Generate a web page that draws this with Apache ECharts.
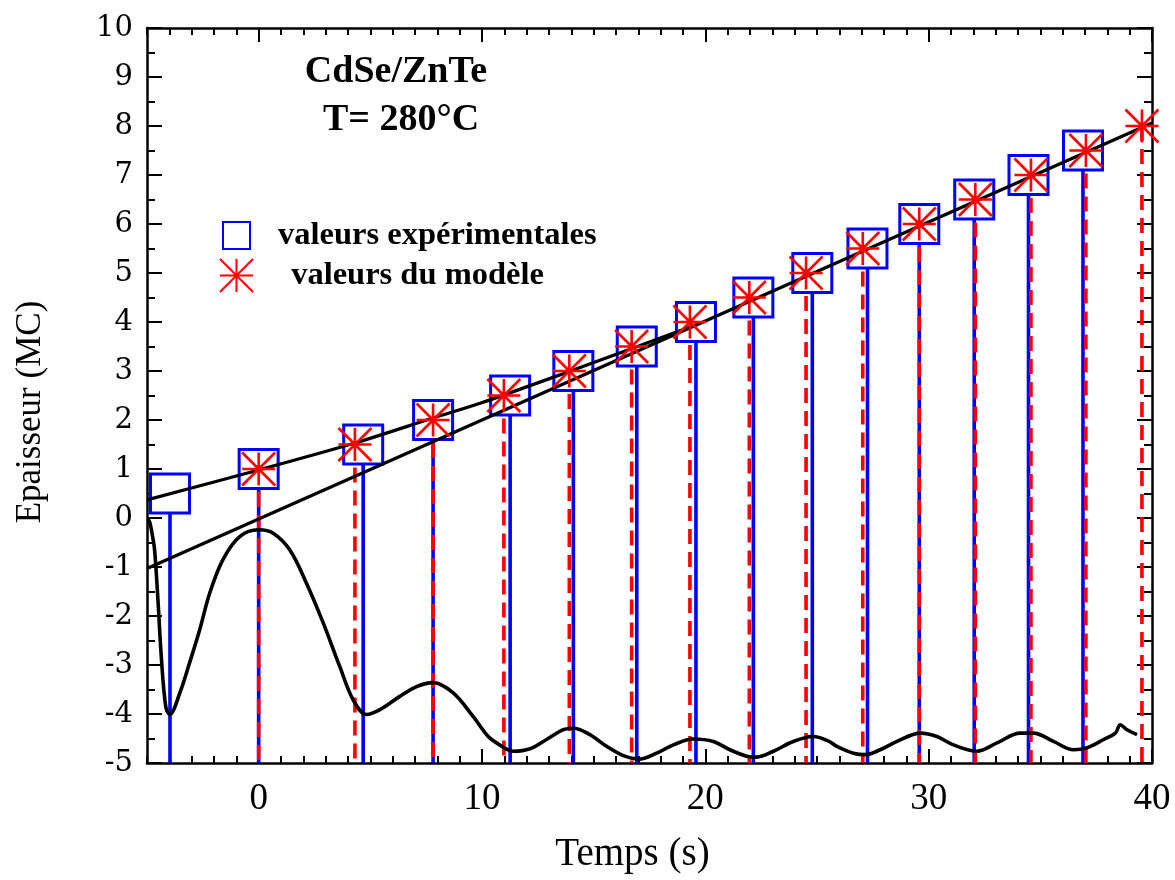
<!DOCTYPE html>
<html><head><meta charset="utf-8">
<script src="https://cdn.jsdelivr.net/npm/echarts@6/dist/echarts.min.js"></script>
<style>html,body{margin:0;padding:0;background:#fff}#c{width:1175px;height:880px}</style>
</head><body><div id="c"></div>
<script>
// ---- data ----
const xMajorTicks = [0, 10, 20, 30, 40];
const expX = [-3.97, 0, 4.68, 7.81, 11.26, 14.09, 16.93, 19.58, 22.15, 24.79, 27.26, 29.58, 32.04, 34.47, 36.91];
const expY = [0.5, 1, 1.5, 2, 2.5, 3, 3.5, 4, 4.5, 5, 5.5, 6, 6.5, 7, 7.5];
const modX = [0, 4.31, 7.81, 10.98, 13.91, 16.70, 19.31, 21.97, 24.51, 27.05, 29.58, 32.09, 34.58, 37.04, 39.55];
const modY = [1, 1.5, 2, 2.5, 3, 3.5, 4, 4.5, 5, 5.5, 6, 6.5, 7, 7.5, 8];
const curveX = [-4.97, -4.88, -4.78, -4.66, -4.51, -4.36, -4.16, -3.98, -3.53, -3.09, -2.64, -2.19, -1.6, -0.85, 0, 0.65, 1.39, 2.14, 2.89, 3.63, 4.23, 4.83, 5.43, 6.32, 7.07, 7.81, 8.71, 9.6, 10.28, 10.65, 11.4, 12.15, 12.89, 13.64, 14.09, 14.83, 15.58, 16.33, 17.07, 17.82, 18.57, 19.46, 20.36, 21.1, 21.85, 22.3, 23.05, 23.94, 24.84, 25.5, 25.89, 26.63, 27.16, 27.83, 28.58, 29.63, 30.37, 31.11, 32.16, 33.06, 34.1, 34.69, 35.59, 36.49, 37.09, 37.84, 38.36, 38.58, 38.88, 39.33];
const curveY = [-0.02, -0.08, -0.3, -0.65, -1.67, -2.83, -3.85, -4.01, -3.57, -2.95, -2.28, -1.53, -0.85, -0.38, -0.24, -0.31, -0.65, -1.33, -2.14, -3.03, -3.71, -4.01, -3.91, -3.64, -3.44, -3.36, -3.57, -4.05, -4.46, -4.59, -4.76, -4.71, -4.52, -4.32, -4.29, -4.42, -4.66, -4.85, -4.92, -4.8, -4.63, -4.51, -4.56, -4.73, -4.86, -4.88, -4.76, -4.56, -4.46, -4.55, -4.66, -4.8, -4.83, -4.73, -4.56, -4.39, -4.46, -4.63, -4.76, -4.59, -4.39, -4.39, -4.56, -4.73, -4.69, -4.52, -4.39, -4.22, -4.32, -4.42];
const fit1X = [-5, 0, 4.31, 7.81, 9.91, 14.09, 17.02, 19.8];
const fit1Y = [0.37, 0.98, 1.53, 2.04, 2.34, 3.02, 3.51, 3.98];
const fit2X = [-5, 40];
const fit2Y = [-1.03, 8.06];
const legendNames = ['valeurs expérimentales', ' valeurs du modèle'];
const titleLines = ['CdSe/ZnTe', 'T= 280°C'];
const xName = 'Temps (s)';
const yName = 'Epaisseur (MC)';

const zip = (a, b) => a.map((v, i) => [v, b[i]]);
const STAR = 'path://M0,-1L0,1M-1,0L1,0M-1,-1L1,1M-1,1L1,-1';
const BLUE = '#0000ff', RED = '#ff0000';

function drops(xs, ys, color, dash, z) {
  return {
    type: 'custom', z: z, silent: true, clip: true,
    encode: {x: 0, y: 1},
    data: zip(xs, ys),
    renderItem: function (params, api) {
      const p = api.coord([api.value(0), api.value(1)]);
      const b = api.coord([api.value(0), -5]);
      return {type: 'line', shape: {x1: p[0], y1: p[1], x2: b[0], y2: b[1]},
        style: {stroke: color, lineWidth: 3.6, lineDash: dash}};
    }
  };
}

const grid = {left: 147, right: 23, top: 28, bottom: 117};
const baseX = {type: 'value', min: -5, max: 40, splitLine: {show: false}};
const baseY = {type: 'value', min: -5, max: 10, splitLine: {show: false}};
const axLine = {show: true, onZero: false, lineStyle: {color: '#000', width: 2.5}};
const noLine = {show: false, onZero: false};

const option = {
  animation: false,
  backgroundColor: '#fff',
  grid: grid,
  xAxis: [
    Object.assign({}, baseX, {position: 'bottom', interval: 1,
      axisLine: axLine,
      axisTick: {inside: true, length: 7, lineStyle: {color: '#000', width: 2}},
      axisLabel: {margin: 18, color: '#000', fontFamily: 'Liberation Serif', fontSize: 37,
        formatter: v => (xMajorTicks.indexOf(v) >= 0 ? String(v) : '')},
      name: xName, nameLocation: 'middle', nameGap: 72,
      nameTextStyle: {fontFamily: 'Liberation Serif', fontSize: 39, color: '#000', padding: [0, 34, 0, 0]}}),
    Object.assign({}, baseX, {position: 'bottom',
      axisLine: noLine,
      axisTick: {inside: true, length: 14, customValues: xMajorTicks, lineStyle: {color: '#000', width: 2}},
      axisLabel: {show: false}}),
    Object.assign({}, baseX, {position: 'top', interval: 1,
      axisLine: axLine,
      axisTick: {inside: true, length: 7, lineStyle: {color: '#000', width: 2}},
      axisLabel: {show: false}}),
    Object.assign({}, baseX, {position: 'top',
      axisLine: noLine,
      axisTick: {inside: true, length: 14, customValues: xMajorTicks, lineStyle: {color: '#000', width: 2}},
      axisLabel: {show: false}})
  ],
  yAxis: [
    Object.assign({}, baseY, {position: 'left', interval: 1,
      axisLine: axLine,
      axisTick: {inside: true, length: 15, lineStyle: {color: '#000', width: 2}},
      minorTick: {show: true, splitNumber: 2, length: 8, lineStyle: {color: '#000', width: 2}},
      axisLabel: {margin: 14, color: '#000', fontFamily: 'DejaVu Serif', fontSize: 29}}),
    Object.assign({}, baseY, {position: 'right', interval: 1,
      axisLine: axLine,
      axisTick: {inside: true, length: 15, lineStyle: {color: '#000', width: 2}},
      minorTick: {show: true, splitNumber: 2, length: 8, lineStyle: {color: '#000', width: 2}},
      axisLabel: {show: false}})
  ],
  legend: [
    {data: [legendNames[0]], left: 222, top: 219, orient: 'vertical', padding: 0,
      itemWidth: 27, itemHeight: 27, selectedMode: false,
      textStyle: {fontFamily: 'Liberation Serif', fontWeight: 'bold', fontSize: 32.5, color: '#000', padding: [0, 0, 0, 23]}},
    {data: [legendNames[1]], left: 219, top: 258, orient: 'vertical', padding: 0,
      itemWidth: 33, itemHeight: 33, selectedMode: false,
      textStyle: {fontFamily: 'Liberation Serif', fontWeight: 'bold', fontSize: 32.5, color: '#000', padding: [0, 0, 0, 25]}}
  ],
  graphic: [
    {type: 'text', x: 396, y: 72, style: {text: titleLines[0], font: 'bold 38px "Liberation Serif"', fill: '#000', align: 'center', verticalAlign: 'middle'}},
    {type: 'text', x: 401, y: 120, style: {text: titleLines[1], font: 'bold 38px "Liberation Serif"', fill: '#000', align: 'center', verticalAlign: 'middle'}},
    {type: 'text', x: 31, y: 412, rotation: Math.PI / 2, style: {text: yName, font: '35px "Liberation Serif"', fill: '#000', align: 'center', verticalAlign: 'middle'}}
  ],
  series: [
    drops(expX, expY, BLUE, null, 1),
    drops(modX, modY, RED, [15, 8], 2),
    {type: 'scatter', name: legendNames[0], z: 3, data: zip(expX, expY),
      symbol: 'rect', symbolSize: 39,
      itemStyle: {color: '#fff', borderColor: BLUE, borderWidth: 3, opacity: 1}},
    {type: 'line', z: 4, data: zip(curveX, curveY), showSymbol: false, smooth: 0.35,
      lineStyle: {color: '#000', width: 3.6}},
    {type: 'line', z: 4, data: zip(fit1X, fit1Y), showSymbol: false, smooth: 0.3,
      lineStyle: {color: '#000', width: 3.2}},
    {type: 'line', z: 4, data: zip(fit2X, fit2Y), showSymbol: false,
      lineStyle: {color: '#000', width: 3.2}},
    {type: 'scatter', name: legendNames[1], z: 5, data: zip(modX, modY),
      symbol: STAR, symbolSize: 33,
      itemStyle: {color: 'rgba(0,0,0,0)', borderColor: RED, borderWidth: 2.6, opacity: 1}}
  ]
};
const chart = echarts.init(document.getElementById('c'), null, {renderer: 'canvas'});
chart.setOption(option);
</script>
</body></html>
